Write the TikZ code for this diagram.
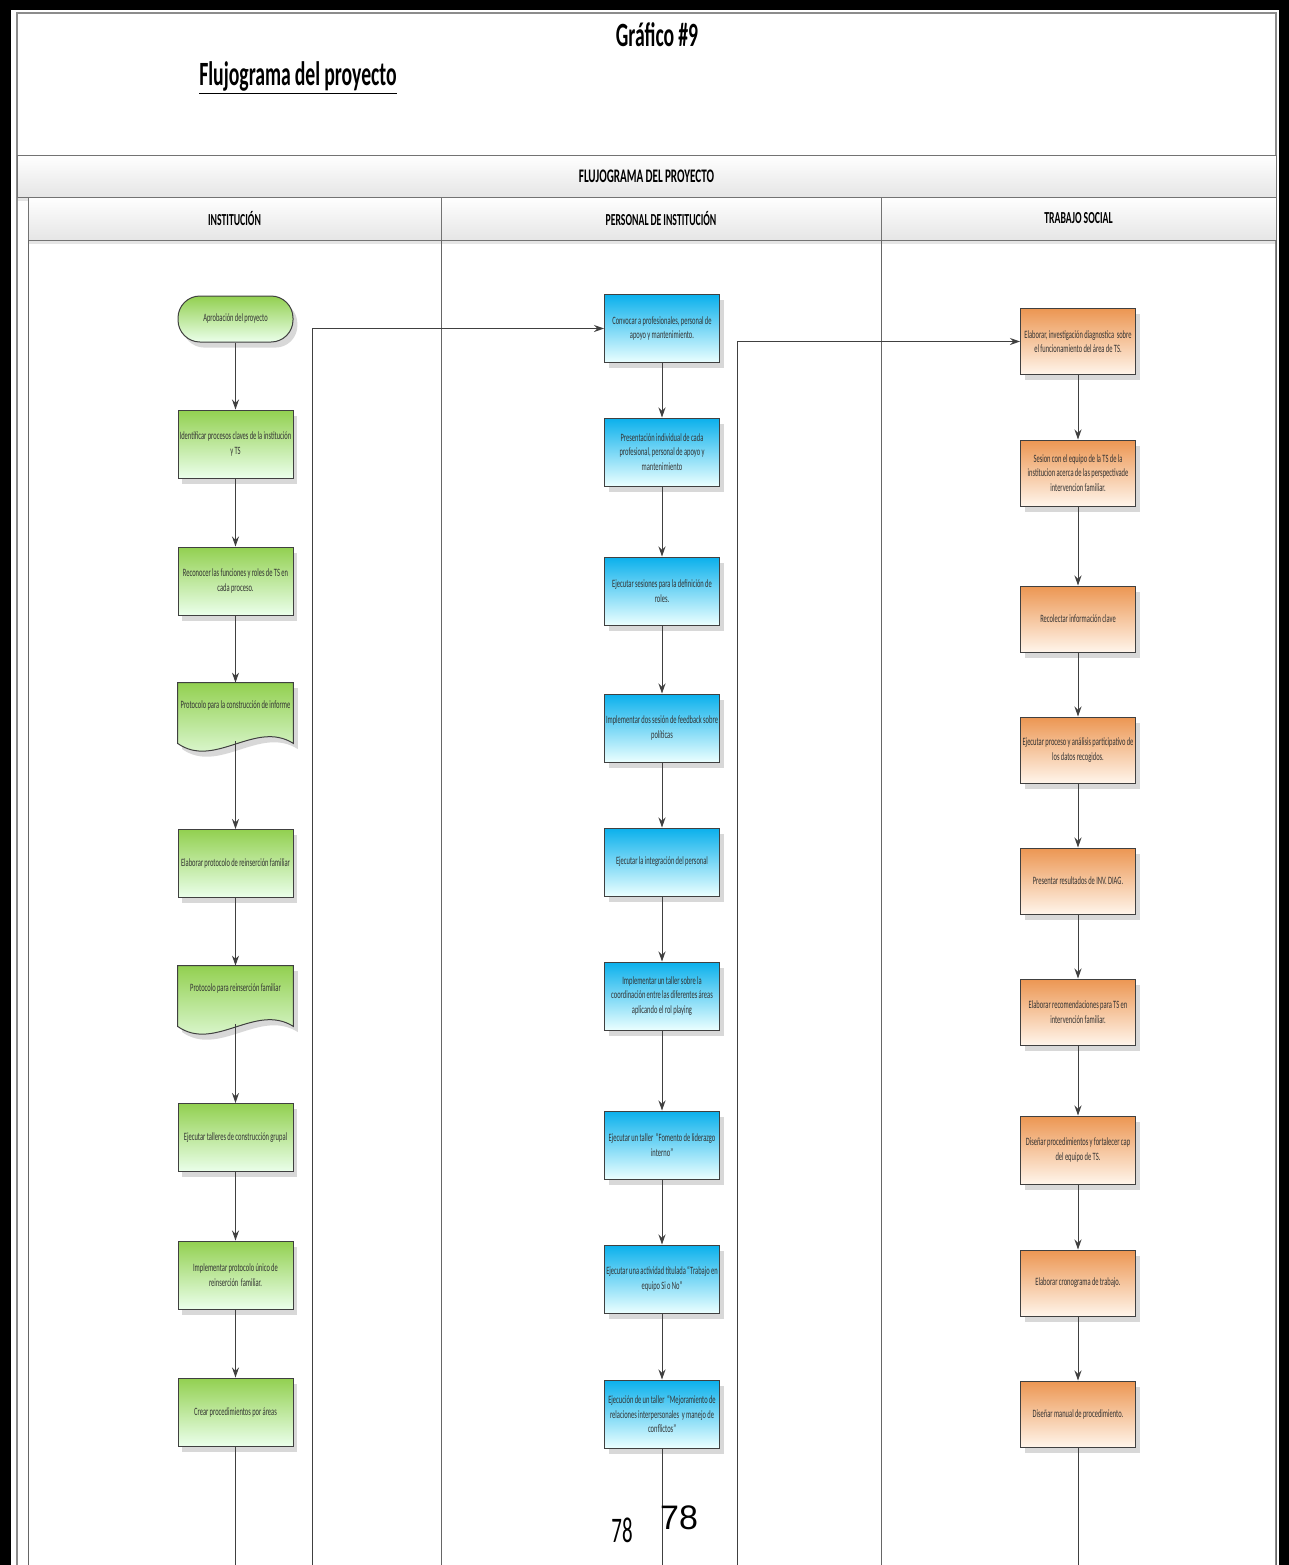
\documentclass[tikz,border=0pt]{standalone}
\usepackage{fontspec}
\newfontfamily\cfont[FakeStretch=0.58, WordSpace=0.9]{Carlito}
\newfontfamily\afont{Liberation Sans}
\usetikzlibrary{shadows,calc,arrows.meta}
\hyphenpenalty=10000
\exhyphenpenalty=10000

\tikzset{
  boxtxt/.style={font=\cfont\fontsize{5.6}{7.2}\selectfont, text=black!80, align=flush center, text width=56pt},
  stepbox/.style={boxtxt, draw=black!75, line width=0.5pt, minimum width=57.5pt, minimum height=34pt, inner sep=0.75pt,
    drop shadow={shadow xshift=2.2pt, shadow yshift=-2.8pt, opacity=0.3}},
  greenbox/.style={stepbox, top color=gtop, bottom color=green!8!white},
  bluebox/.style={stepbox, top color=btop, bottom color=cyan!8!white},
  orangebox/.style={stepbox, top color=otop, bottom color=orange!8!white},
  docbox/.style={boxtxt, minimum width=57.5pt, minimum height=23pt, inner sep=0.75pt},
  headbox/.style={draw=black!55, line width=0.5pt, top color=white, bottom color=black!10,
    font=\cfont\bfseries\fontsize{8.4}{9}\selectfont,
    drop shadow={shadow xshift=0pt, shadow yshift=-2pt, opacity=0.2}},
  flowline/.style={draw=black!75, line width=0.5pt},
  flowarrow/.style={flowline, -{Stealth[length=5pt,width=3.5pt]}},
  laneline/.style={draw=black!60, line width=0.5pt}
}
\definecolor{gtop}{RGB}{146,208,80}
\definecolor{btop}{RGB}{10,176,236}
\definecolor{otop}{RGB}{236,150,82}

\begin{document}
\begin{tikzpicture}[x=0.5pt,y=-0.5pt]
\useasboundingbox (0,0) rectangle (1289,1565);

% frame
\fill[white] (0,0) rectangle (1289,1565);
\fill[black] (0,0) rectangle (11,1565);
\fill[black] (0,0) rectangle (1289,10);
\fill[black] (1279,0) rectangle (1289,1565);
\draw[black!45, line width=0.8pt] (17,1565) -- (17,13) -- (1276,13) -- (1276,1565);

% titles
\node (titulo) at (657,35) {\cfont\bfseries\fontsize{17}{19}\selectfont Gráfico \#9};
\node (subtitulo) at (298,78) {\cfont\bfseries\fontsize{17}{19}\selectfont\underline{Flujograma del proyecto}};

% pool and lanes
\node[headbox, minimum width=629.5pt, minimum height=21pt, font=\cfont\bfseries\fontsize{9.6}{10}\selectfont] (pool) at (646.5,176) {FLUJOGRAMA DEL PROYECTO};
\node[headbox, minimum width=206.5pt, minimum height=21.5pt] (lane1) at (234.5,218.5) {INSTITUCIÓN};
\node[headbox, minimum width=220pt, minimum height=21.5pt] (lane2) at (661,218.5) {PERSONAL DE INSTITUCIÓN};
\node[headbox, minimum width=197.5pt, minimum height=21.5pt] (lane3) at (1078.5,218.5) {TRABAJO SOCIAL};
\draw[laneline] (28,240) -- (28,1565);
\draw[laneline] (441,240) -- (441,1565);
\draw[laneline] (881,240) -- (881,1565);
\draw[laneline] (1276,240) -- (1276,1565);

% INSTITUCION
\node[greenbox, rounded corners=11pt, minimum height=23pt] (a1) at (235.5,319) {Aprobación del proyecto};
\node[greenbox] (a2) at (235.5,444) {Identificar procesos claves de la institución y TS};
\node[greenbox] (a3) at (235.5,581) {Reconocer las funciones y roles de TS en cada proceso.};
\node[docbox] (a4) at (235.5,706) {};
\node[greenbox] (a5) at (235.5,863.5) {Elaborar protocolo de reinserción familiar};
\node[docbox] (a6) at (235.5,989) {};
\node[greenbox] (a7) at (235.5,1137.5) {Ejecutar talleres de construcción grupal};
\node[greenbox] (a8) at (235.5,1275) {Implementar protocolo único de reinserción~ familiar.};
\node[greenbox] (a9) at (235.5,1412) {Crear procedimientos por áreas};

% document shapes
\foreach \d in {a4,a6}{
  \path[draw=black!75, line width=0.5pt, top color=gtop, bottom color=green!8!white,
    drop shadow={shadow xshift=2.2pt, shadow yshift=-2.8pt, opacity=0.3}]
    (\d.north west) -- (\d.north east) -- ($(\d.south east)+(0,14)$)
    .. controls +(-38,-24) and +(37,26) .. ($(\d.south west)+(0,14)$) -- cycle;
}
\node[docbox] at (a4) {Protocolo para la construcción de informe};
\node[docbox] at (a6) {Protocolo para reinserción familiar};

% PERSONAL DE INSTITUCION
\node[bluebox] (b1) at (662,328.5) {Convocar a profesionales, personal de apoyo y mantenimiento.};
\node[bluebox] (b2) at (662,452) {Presentación individual de cada profesional, personal de apoyo y mantenimiento};
\node[bluebox] (b3) at (662,591) {Ejecutar sesiones para la definición de roles.};
\node[bluebox] (b4) at (662,728) {Implementar dos sesión de feedback sobre políticas};
\node[bluebox] (b5) at (662,862) {Ejecutar la integración del personal};
\node[bluebox] (b6) at (662,996) {Implementar un taller sobre la coordinación entre las diferentes áreas aplicando el rol playing};
\node[bluebox] (b7) at (662,1145) {Ejecutar un taller~ “Fomento de liderazgo interno”};
\node[bluebox] (b8) at (662,1279) {Ejecutar una actividad titulada “Trabajo en equipo Si o No”};
\node[bluebox] (b9) at (662,1414) {Ejecución de un taller~ “Mejoramiento de relaciones interpersonales~ y manejo de conflictos”};

% TRABAJO SOCIAL
\node[orangebox, minimum height=33pt] (c1) at (1078,341.5) {Elaborar, investigación diagnostica~ sobre\\el funcionamiento del área de TS.};
\node[orangebox, minimum height=33pt] (c2) at (1078,473) {Sesion con el equipo de la TS de la institucion acerca de las perspectivade intervencion familiar.};
\node[orangebox, minimum height=33pt] (c3) at (1078,619) {Recolectar información clave};
\node[orangebox, minimum height=33pt] (c4) at (1078,750) {Ejecutar proceso y análisis participativo de los datos recogidos.};
\node[orangebox, minimum height=33pt] (c5) at (1078,881) {Presentar resultados de INV. DIAG.};
\node[orangebox, minimum height=33pt] (c6) at (1078,1012) {Elaborar recomendaciones para TS en intervención familiar.};
\node[orangebox] (c7) at (1078,1150) {Diseñar procedimientos y fortalecer cap del equipo de TS.};
\node[orangebox, minimum height=33pt] (c8) at (1078,1283) {Elaborar cronograma de trabajo.};
\node[orangebox, minimum height=33pt] (c9) at (1078,1414) {Diseñar manual de procedimiento.};

% connectors
\draw[flowarrow] (a1) -- (a2);
\draw[flowarrow] (a2) -- (a3);
\draw[flowarrow] (a3) -- (a4.north);
\draw[flowarrow] ($(a4.south)+(0,12)$) -- (a5);
\draw[flowarrow] (a5) -- (a6.north);
\draw[flowarrow] ($(a6.south)+(0,12)$) -- (a7);
\draw[flowarrow] (a7) -- (a8);
\draw[flowarrow] (a8) -- (a9);

\draw[flowarrow] (b1) -- (b2);
\draw[flowarrow] (b2) -- (b3);
\draw[flowarrow] (b3) -- (b4);
\draw[flowarrow] (b4) -- (b5);
\draw[flowarrow] (b5) -- (b6);
\draw[flowarrow] (b6) -- (b7);
\draw[flowarrow] (b7) -- (b8);
\draw[flowarrow] (b8) -- (b9);

\draw[flowarrow] (c1) -- (c2);
\draw[flowarrow] (c2) -- (c3);
\draw[flowarrow] (c3) -- (c4);
\draw[flowarrow] (c4) -- (c5);
\draw[flowarrow] (c5) -- (c6);
\draw[flowarrow] (c6) -- (c7);
\draw[flowarrow] (c7) -- (c8);
\draw[flowarrow] (c8) -- (c9);

% lines coming from / leaving the page
\coordinate (inA) at (312,1565);
\coordinate (inB) at (737,1565);
\coordinate (outA) at (235.5,1565);
\coordinate (outB) at (662,1565);
\coordinate (outC) at (1078,1565);
\draw[flowarrow] (inA) |- (b1.west);
\draw[flowarrow] (inB) |- (c1.west);
\draw[flowline] (a9) -- (outA);
\draw[flowline] (b9) -- (outB);
\draw[flowline] (c9) -- (outC);

% page numbers
\node (pag1) at (622,1530) {\cfont\fontsize{18}{20}\selectfont 78};
\node (pag2) at (679,1518) {\afont\fontsize{17}{19}\selectfont 78};
\end{tikzpicture}
\end{document}
